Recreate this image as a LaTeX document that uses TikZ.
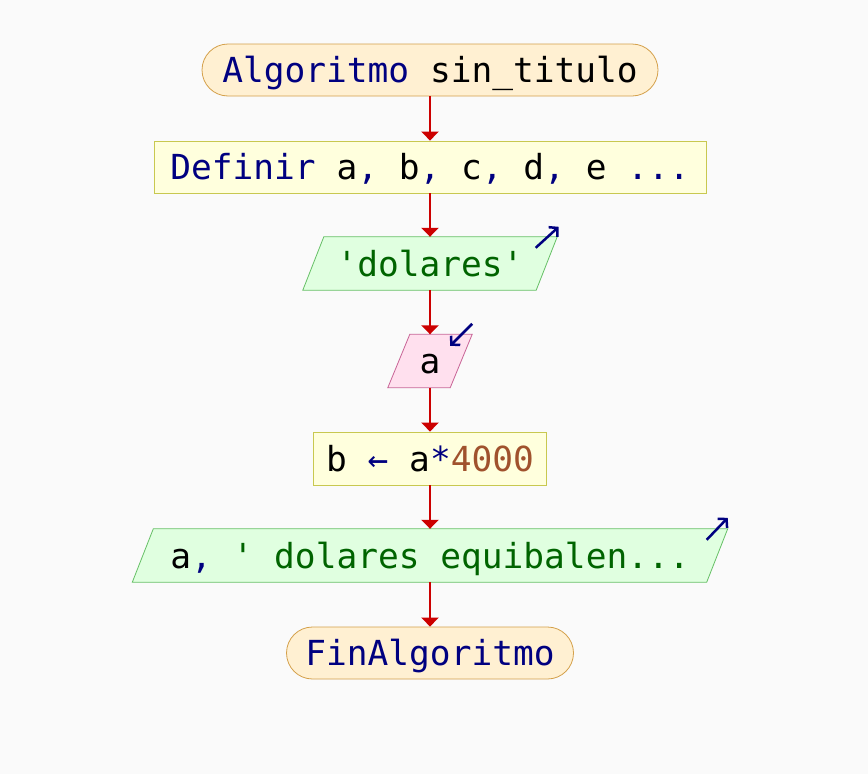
\documentclass[tikz,border=0pt]{standalone}
\usepackage{fontspec}
\setmonofont{DejaVu Sans Mono}
\usetikzlibrary{arrows.meta,backgrounds}
\definecolor{bg}{HTML}{FAFAFA}
\definecolor{kw}{HTML}{000080}
\definecolor{str}{HTML}{006400}
\definecolor{num}{HTML}{A0522D}
\definecolor{termfill}{HTML}{FFF0D2}
\definecolor{termdraw}{HTML}{D4A04A}
\definecolor{procfill}{HTML}{FFFFDD}
\definecolor{procdraw}{HTML}{C8C850}
\definecolor{outfill}{HTML}{E0FFE0}
\definecolor{outdraw}{HTML}{66C066}
\definecolor{infill}{HTML}{FFE0EE}
\definecolor{indraw}{HTML}{C86496}
\definecolor{flow}{HTML}{CC0000}
\tikzset{
  basebox/.style={inner sep=0pt, text height=25pt, text depth=0pt, align=center},
  term/.style={basebox, draw=termdraw, fill=termfill, rounded corners=26pt, line width=0.8pt},
  proc/.style={basebox, draw=procdraw, fill=procfill, line width=0.8pt},
  iobox/.style={basebox},
  outshape/.style={draw=outdraw, fill=outfill, line width=0.8pt},
  inshape/.style={draw=indraw, fill=infill, line width=0.8pt},
  flowline/.style={draw=flow, line width=2.8pt, -{Triangle[length=9pt,width=17pt]}},
  ioarrow/.style={draw=kw, line width=2.5pt, -{Straight Barb[length=6pt,width=13pt]}}
}
\begin{document}
\begin{tikzpicture}[x=1pt,y=-1pt,font=\fontsize{34.5}{40}\selectfont\ttfamily]
\useasboundingbox (0,0) rectangle (868,774);

\node[term, minimum width=456pt, minimum height=52pt] (start) at (430,70)
  {\textcolor{kw}{Algoritmo} sin\_titulo};
\node[proc, minimum width=552pt, minimum height=52pt] (def) at (430,167)
  {\textcolor{kw}{Definir} a\textcolor{kw}{,} b\textcolor{kw}{,} c\textcolor{kw}{,} d\textcolor{kw}{,} e \textcolor{kw}{...}};
\node[iobox, minimum width=233pt, minimum height=53pt] (dol) at (430,263.5)
  {\textcolor{str}{'dolares'}};
\node[iobox, minimum width=62pt, minimum height=53pt] (inp) at (430,361)
  {a};
\node[proc, minimum width=233pt, minimum height=53pt] (asg) at (430,458.5)
  {b \textcolor{kw}{←} a\textcolor{kw}{*}\textcolor{num}{4000}};
\node[iobox, minimum width=574pt, minimum height=53pt] (out) at (430,555.5)
  {a\textcolor{kw}{,} \textcolor{str}{' dolares equibalen...}};
\node[term, minimum width=287pt, minimum height=52pt] (fin) at (430,653)
  {\textcolor{kw}{FinAlgoritmo}};

\begin{scope}[on background layer]
  \fill[bg] (0,0) rectangle (868,774);
  \draw[outshape] ([xshift=-10.5pt]dol.south west) -- ([xshift=10.5pt]dol.north west)
    -- ([xshift=10.5pt]dol.north east) -- ([xshift=-10.5pt]dol.south east) -- cycle;
  \draw[inshape] ([xshift=-11pt]inp.south west) -- ([xshift=11pt]inp.north west)
    -- ([xshift=11pt]inp.north east) -- ([xshift=-11pt]inp.south east) -- cycle;
  \draw[outshape] ([xshift=-10.5pt]out.south west) -- ([xshift=10.5pt]out.north west)
    -- ([xshift=10.5pt]out.north east) -- ([xshift=-10.5pt]out.south east) -- cycle;
\end{scope}

\draw[flowline] (start.south) -- (def.north);
\draw[flowline] (def.south) -- (dol.north);
\draw[flowline] (dol.south) -- (inp.north);
\draw[flowline] (inp.south) -- (asg.north);
\draw[flowline] (asg.south) -- (out.north);
\draw[flowline] (out.south) -- (fin.north);

\coordinate (dolA) at ([xshift=-11pt,yshift=-11pt]dol.north east);
\coordinate (dolB) at ([xshift=12pt,yshift=10pt]dol.north east);
\draw[ioarrow] (dolA) -- (dolB);
\coordinate (inpA) at ([xshift=11pt,yshift=10.5pt]inp.north east);
\coordinate (inpB) at ([xshift=-11pt,yshift=-11.5pt]inp.north east);
\draw[ioarrow] (inpA) -- (inpB);
\coordinate (outA) at ([xshift=-10.5pt,yshift=-11pt]out.north east);
\coordinate (outB) at ([xshift=10.5pt,yshift=11pt]out.north east);
\draw[ioarrow] (outA) -- (outB);
\end{tikzpicture}
\end{document}
